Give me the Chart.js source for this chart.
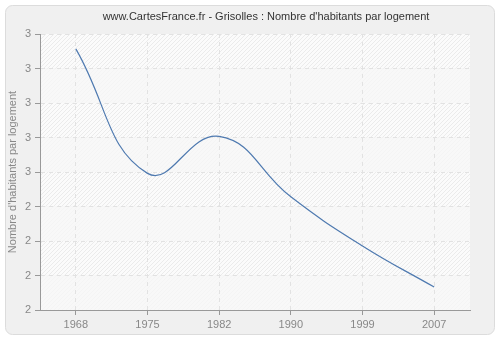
<html>
<head>
<style>
  body { margin: 0; background: #fff; }
  #wrap { position: relative; width: 500px; height: 340px; }
</style>
</head>
<body>
<div id="wrap">
  <canvas id="chart" width="500" height="340"></canvas>
</div>

<script src="https://cdn.jsdelivr.net/npm/chart.js@4/dist/chart.umd.min.js"></script>
<script>
// values
let years = ['1968', '1975', '1982', '1990', '1999', '2007']
let habParLogement = [2.946, 2.495, 2.629, 2.410, 2.232, 2.083]
let yMin = 2
let yMax = 3
let yStep = 0.125

let titleText = "www.CartesFrance.fr - Grisolles : Nombre d'habitants par logement"
let yTitle = "Nombre d'habitants par logement"
let fontFam = 'Liberation Sans, Arial, sans-serif'

function makeHatch(bg, line) {
  let c = document.createElement('canvas')
  c.width = 4
  c.height = 4
  let g = c.getContext('2d')
  g.fillStyle = bg
  g.fillRect(0, 0, 4, 4)
  g.strokeStyle = line
  g.lineWidth = 1
  g.beginPath()
  g.moveTo(0, 4); g.lineTo(4, 0)
  g.moveTo(-2, 2); g.lineTo(2, -2)
  g.moveTo(2, 6); g.lineTo(6, 2)
  g.stroke()
  return g.createPattern(c, 'repeat')
}

// gray rounded panel, striped plot background, title text
const background = {
  id: 'background',
  beforeDraw(chart) {
    let ctx = chart.ctx
    let a = chart.chartArea
    ctx.save()
    ctx.fillStyle = '#fff'
    ctx.fillRect(0, 0, chart.width, chart.height)
    ctx.beginPath()
    ctx.roundRect(5.5, 5.5, 489, 329, 7)
    ctx.fillStyle = '#f0f0f0'
    ctx.fill()
    ctx.strokeStyle = '#dcdcdc'
    ctx.lineWidth = 1
    ctx.stroke()

    let dark = makeHatch('#fbfbfb', '#ebebeb')
    let light = makeHatch('#f8f8f8', '#f4f4f4')
    let y = chart.scales.y
    let ticks = y.ticks
    for (let i = 0; i < ticks.length - 1; i++) {
      let top = y.getPixelForValue(ticks[i + 1].value)
      let bot = y.getPixelForValue(ticks[i].value)
      ctx.fillStyle = (i % 2 === 0) ? light : dark
      ctx.fillRect(a.left, top, a.right - a.left, bot - top)
    }

    ctx.fillStyle = '#333'
    ctx.font = '11px ' + fontFam
    ctx.textAlign = 'center'
    ctx.textBaseline = 'middle'
    ctx.fillText(titleText, 266, 17)
    ctx.restore()
  }
}

const ctx = document.getElementById('chart').getContext('2d')
new Chart(ctx, {
  type: 'line',
  data: {
    labels: years,
    datasets: [{
      data: habParLogement,
      borderColor: '#4f7ab0',
      borderWidth: 1.2,
      pointRadius: 0,
      fill: false,
      tension: 0.45,
    }],
  },
  options: {
    responsive: false,
    animation: false,
    layout: { padding: { left: 0, right: 30, top: 34, bottom: 0 } },
    plugins: {
      legend: { display: false },
      tooltip: { enabled: false },
      title: { display: false },
    },
    scales: {
      x: {
        offset: true,
        grid: { color: '#e2e2e2', tickColor: '#999', tickLength: 5, tickBorderDash: [], offset: false },
        border: { display: true, color: '#999', width: 1, dash: [4, 4] },
        ticks: { color: '#888', font: { family: fontFam, size: 11 }, padding: 3, maxRotation: 0 },
        afterFit(scale) { scale.height = 30 },
      },
      y: {
        min: yMin,
        max: yMax,
        grid: { color: '#e2e2e2', tickColor: '#999', tickLength: 5, tickBorderDash: [] },
        border: { display: true, color: '#999', width: 1, dash: [4, 4] },
        ticks: {
          stepSize: yStep,
          color: '#888',
          font: { family: fontFam, size: 11 },
          padding: 4,
          callback: v => Math.round(v),
        },
        title: {
          display: true,
          text: yTitle,
          color: '#888',
          font: { family: fontFam, size: 11 },
          padding: { top: 6, bottom: 0 },
        },
        afterFit(scale) { scale.width = 40 },
      },
    },
  },
  plugins: [background],
})
</script>
</body>
</html>
